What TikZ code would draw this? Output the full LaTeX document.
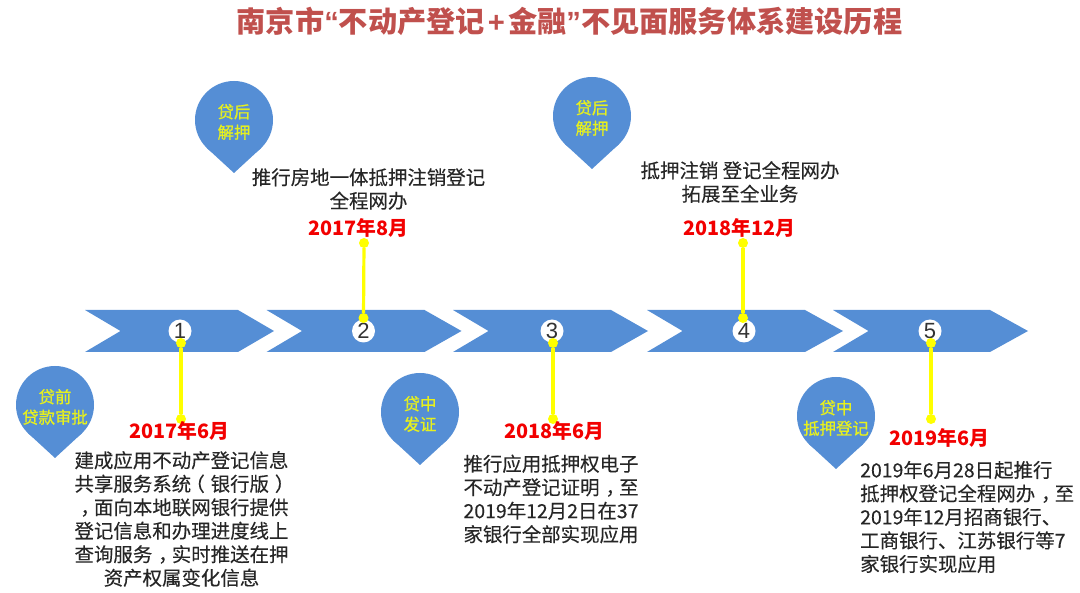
\documentclass[tikz,border=0pt]{standalone}
\usepackage{fontspec}
\setmainfont{Noto Sans CJK SC}
\newfontfamily\numfont{Liberation Sans}
\newfontfamily\pinfont[FakeBold=1.0]{Noto Sans CJK SC}
\newfontfamily\bodyfont[FakeBold=0.25]{Noto Sans CJK SC}
\definecolor{chev}{HTML}{558ED5}
\definecolor{pinblue}{HTML}{558ED5}
\definecolor{ttl}{HTML}{C0504D}
\definecolor{lbl}{HTML}{E6F01E}
\definecolor{stem}{HTML}{FFFF00}
\definecolor{body}{HTML}{262626}
\tikzset{
  chevron/.style={fill=chev,draw=none},
  titletext/.style={font=\fontsize{29.2}{34}\selectfont\bfseries,text=ttl,inner sep=0pt},
  bodytext/.style={font=\bodyfont\fontsize{19.45}{23.5}\selectfont,text=body,align=center,inner sep=0pt},
  bodyleft/.style={bodytext,align=left},
  datetext/.style={font=\fontsize{19.8}{24}\selectfont\bfseries,text=red!95!black,inner sep=0pt},
  pinlabel/.style={font=\pinfont\fontsize{16.4}{20.5}\selectfont,text=lbl,align=center,inner sep=0pt},
  pinhead/.style={circle,fill=pinblue,minimum size=78pt,inner sep=0pt,draw=none},
  numdot/.style={circle,fill=white,draw=none,minimum size=23pt,inner sep=0pt,font=\numfont\fontsize{22}{22}\selectfont,text=black!80},
  stemdot/.style={circle,fill=stem,draw=none,minimum size=10pt,inner sep=0pt},
  stemline/.style={draw=stem,line width=3.2pt}
}
\newcommand{\pinmark}[5]{%
  \fill[pinblue] (#1-27.6,#2+27.6) -- (#1,#3) -- (#1+27.6,#2+27.6) -- cycle;
  \node[pinhead] (#4) at (#1,#2) {};
  \node[pinlabel] (#4t) at (#1,#2+2) {#5};
}
\newcommand{\chevshape}[3]{% start, shoulder offset, tip offset
  \fill[chevron] (#1,310) -- (#1+#2,310) -- (#1+#3,331) -- (#1+#2,352) -- (#1,352) -- (#1+35.5,331) -- cycle;
}
\newcommand{\ccomma}{\kern.3em，\kern-.3em}
\newcommand{\cparl}{\kern-.3em（\kern.3em}
\newcommand{\cparr}{\kern.3em）\kern-.3em}
\begin{document}
\begin{tikzpicture}[x=1pt,y=-1pt]
\useasboundingbox (0,0) rectangle (1080,593);
\node[titletext] (title) at (569.5,21) {南京市{\numfont\bfseries “}不动产登记\hspace{3pt}{\numfont\bfseries +}\hspace{3pt}金融{\numfont\bfseries ”}不见面服务体系建设历程};

\chevshape{85}{153}{189}
\chevshape{266.5}{158}{195}
\chevshape{453}{158}{195}
\chevshape{647}{158}{196}
\chevshape{833}{157}{195}

\pinmark{55}{405}{458}{pa}{贷前\\贷款审批}
\pinmark{234}{120}{173}{pb}{贷后\\解押}
\pinmark{420}{412}{465}{pc}{贷中\\发证}
\pinmark{592}{116}{169}{pd}{贷后\\解押}
\pinmark{836}{416}{469}{pe}{贷中\\抵押登记}

\node[numdot] (n1) at (180,331) {1};
\node[numdot] (n2) at (363.5,331) {2};
\node[numdot] (n3) at (552,331) {3};
\node[numdot] (n4) at (744,331) {4};
\node[numdot] (n5) at (930,331) {5};

\node[stemdot] (s1a) at (181,343) {};
\node[stemdot] (s1b) at (181,419) {};
\node[stemdot] (s2a) at (364,243) {};
\node[stemdot] (s2b) at (363.5,318) {};
\node[stemdot] (s3a) at (553,343) {};
\node[stemdot] (s3b) at (553,419) {};
\node[stemdot] (s4a) at (743,243) {};
\node[stemdot] (s4b) at (743,318) {};
\node[stemdot] (s5a) at (931,343) {};
\node[stemdot] (s5b) at (931,419) {};
\draw[stemline] (s1a) -- (s1b);
\draw[stemline] (s2a) -- (s2b);
\draw[stemline] (s3a) -- (s3b);
\draw[stemline] (s4a) -- (s4b);
\draw[stemline] (s5a) -- (s5b);

\node[datetext] (d1) at (179.5,431) {2017年6月};
\node[datetext] (d2) at (358.5,228) {2017年8月};
\node[datetext] (d3) at (554.5,431) {2018年6月};
\node[datetext] (d4) at (739.5,228) {2018年12月};
\node[datetext] (d5) at (939.5,438) {2019年6月};

\node[bodytext] (t1) at (181.5,519) {建成应用不动产登记信息\\共享服务系统\cparl 银行版\cparr\\\ccomma 面向本地联网银行提供\\登记信息和办理进度线上\\查询服务\ccomma 实时推送在押\\资产权属变化信息};
\node[bodytext] (t2) at (368.5,189) {推行房地一体抵押注销登记\\全程网办};
\node[bodytext] (t3) at (551,499) {推行应用抵押权电子\\不动产登记证明\ccomma 至\\2019年12月2日在37\\家银行全部实现应用};
\node[bodytext] (t4) at (740,182) {抵押注销 登记全程网办\\拓展至全业务};
\node[bodyleft,anchor=west] (t5) at (860,517) {2019年6月28日起推行\\抵押权登记全程网办\ccomma 至\\2019年12月招商银行、\\工商银行、江苏银行等7\\家银行实现应用};
\end{tikzpicture}
\end{document}
